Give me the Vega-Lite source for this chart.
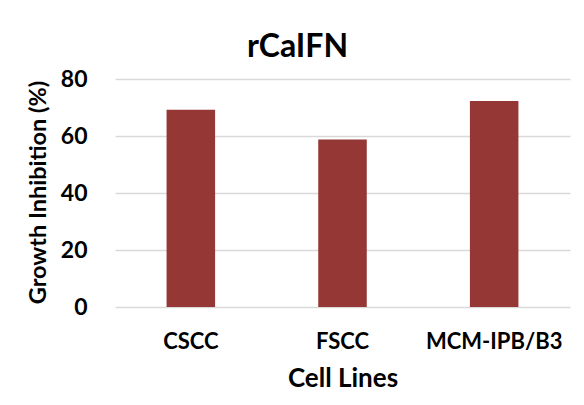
{
  "$schema": "https://vega.github.io/schema/vega-lite/v6.json",
  "width": 455,
  "height": 228,
  "autosize": "none",
  "padding": {"left": 115, "top": 79, "right": 14, "bottom": 98},
  "background": "white",
  "config": {"view": {"stroke": null}, "font": "Lato"},
  "title": {"text": "rCaIFN", "font": "Lato", "fontSize": 32, "fontWeight": "bold", "color": "black", "anchor": "middle", "dx": -45, "offset": 4},
  "data": {"values": [
    {"cell": "CSCC", "inhibition": 69.2},
    {"cell": "FSCC", "inhibition": 58.8},
    {"cell": "MCM-IPB/B3", "inhibition": 72.3}
  ]},
  "mark": {"type": "bar", "color": "#953735"},
  "encoding": {
    "x": {"field": "cell", "type": "nominal", "sort": null,
      "scale": {"paddingInner": 0.68, "paddingOuter": 0.34},
      "axis": {"title": "Cell Lines", "labelAngle": 0, "domain": false, "ticks": false,
        "labelFont": "Lato", "labelFontSize": 22, "labelFontWeight": "bold", "labelColor": "black", "labelPadding": 24,
        "titleFont": "Lato", "titleFontSize": 26, "titleFontWeight": "bold", "titleColor": "black", "titlePadding": 13}},
    "y": {"field": "inhibition", "type": "quantitative",
      "scale": {"domain": [0, 80]},
      "axis": {"title": "Growth Inhibition (%)", "values": [0, 20, 40, 60, 80], "domain": false, "ticks": false,
        "gridColor": "#d9d9d9", "gridWidth": 1.5,
        "labelFont": "Lato", "labelFontSize": 23, "labelFontWeight": "bold", "labelColor": "black", "labelPadding": 28,
        "titleFont": "Lato", "titleFontSize": 23.5, "titleFontWeight": "bold", "titleColor": "black", "titleX": -77, "titleY": 113, "titleBaseline": "middle"}}
  }
}
